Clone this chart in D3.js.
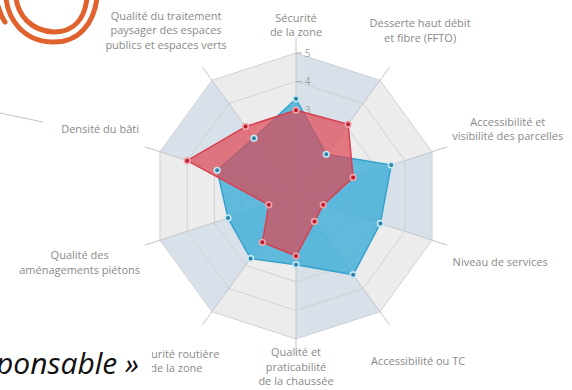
<!DOCTYPE html>
<html lang="fr">
<head>
<meta charset="utf-8">
<script src="https://cdn.jsdelivr.net/npm/d3@7"></script>
<style>
  html, body { margin: 0; padding: 0; background: #fff; }
  svg { display: block; }
</style>
</head>
<body>
<svg id="chart" width="572" height="390"></svg>
<script>
// Critères d'évaluation, dans l'ordre des aiguilles d'une montre depuis le haut
const categories = [
  ["Sécurité", "de la zone"],
  ["Desserte haut débit", "et fibre (FFTO)"],
  ["Accessibilité et", "visibilité des parcelles"],
  ["Niveau de services"],
  ["Accessibilité ou TC"],
  ["Qualité et", "praticabilité", "de la chaussée"],
  ["Sécurité routière", "de la zone"],
  ["Qualité des", "aménagements piétons"],
  ["Densité du bâti"],
  ["Qualité du traitement", "paysager des espaces", "publics et espaces verts"]
];

// Notes sur 5
const seriesBlue = [3.4, 1.8, 3.5, 3.1, 3.4, 2.4, 2.7, 2.5, 2.9, 2.5];
const seriesRed  = [3.0, 3.1, 2.1, 1.0, 1.1, 2.1, 2.0, 1.0, 4.0, 3.0];

const tickValues = [1, 2, 3, 4, 5];
const maxValue = 5;

const svg = d3.select("#chart");
const cx = 296, cy = 196, R = 143;
const n = categories.length;

const r = d3.scaleLinear().domain([0, maxValue]).range([0, R]);
const angle = d3.scaleLinear().domain([0, n]).range([0, 2 * Math.PI]);

const g = svg.append("g").attr("transform", `translate(${cx},${cy})`);

const polar = (a, rad) => [Math.sin(a) * rad, -Math.cos(a) * rad];
const radial = d3.lineRadial().angle(d => d[0]).radius(d => d[1]).curve(d3.curveLinearClosed);

// Secteurs de fond alternés
d3.range(n).forEach(i => {
  g.append("path")
    .attr("d", radial([[0, 0], [angle(i), R], [angle(i + 1), R]]))
    .attr("fill", i % 2 === 0 ? "#d8e0ea" : "#ececec");
});

// Grille concentrique
tickValues.forEach(t => {
  g.append("path")
    .attr("d", radial(d3.range(n).map(i => [angle(i), r(t)])))
    .attr("fill", "none")
    .attr("stroke", "#cfd2d6")
    .attr("stroke-width", 1);
});

// Axes
d3.range(n).forEach(i => {
  const [x, y] = polar(angle(i), R + 16);
  g.append("line")
    .attr("x1", 0).attr("y1", 0).attr("x2", x).attr("y2", y)
    .attr("stroke", "#c2c6cb").attr("stroke-width", 1);
});

// Graduations sur l'axe vertical
tickValues.forEach(t => {
  g.append("line")
    .attr("x1", 0).attr("x2", 6)
    .attr("y1", -r(t)).attr("y2", -r(t))
    .attr("stroke", "#aaa").attr("stroke-width", 1);
  g.append("text")
    .attr("x", 11.5).attr("y", -r(t))
    .attr("dy", "0.35em")
    .attr("text-anchor", "middle")
    .attr("font-family", "Open Sans, sans-serif")
    .attr("font-size", 10)
    .attr("fill", "#a0a0a0")
    .text(t);
});

// Séries
const seriesDefs = [
  { values: seriesBlue, fill: "#3caed8", fillOpacity: 0.8, stroke: "#35a2cc", dot: "#2a83a6", halo: "#c6e7f3" },
  { values: seriesRed,  fill: "#e04652", fillOpacity: 0.7, stroke: "#d6414e", dot: "#b51f2f", halo: "#f3a3aa" }
];

seriesDefs.forEach(s => {
  g.append("path")
    .attr("d", radial(s.values.map((v, i) => [angle(i), r(v)])))
    .attr("fill", s.fill)
    .attr("fill-opacity", s.fillOpacity)
    .attr("stroke", s.stroke)
    .attr("stroke-width", 1.5)
    .attr("stroke-linejoin", "round");
});

seriesDefs.forEach(s => {
  g.selectAll(null)
    .data(s.values)
    .enter().append("circle")
    .attr("cx", (v, i) => polar(angle(i), r(v))[0])
    .attr("cy", (v, i) => polar(angle(i), r(v))[1])
    .attr("r", 2.8)
    .attr("fill", s.dot)
    .attr("stroke", s.halo)
    .attr("stroke-width", 1.6);
});

// Libellés des critères
const lineH = 14.5;
categories.forEach((lines, i) => {
  const a = angle(i);
  const t = g.append("text")
    .attr("font-family", "Open Sans, sans-serif")
    .attr("font-size", 11)
    .attr("fill", "#8a8a8a")
    .attr("text-anchor", "middle");
  const spans = lines.map(line => t.append("tspan").attr("x", 0).text(line));
  const w = d3.max(spans, sp => sp.node().getComputedTextLength());
  const s = Math.sin(a), c = Math.cos(a);
  const as = Math.abs(s);
  const x = s * (150 + 18 * as + w / 2);
  const y = -c * (171 + 46 * Math.pow(as, 0.6));
  spans.forEach((sp, k) => {
    sp.attr("x", x)
      .attr("y", y + (k - (lines.length - 1) / 2) * lineH)
      .attr("dy", "0.35em");
  });
});

// Trait gris à gauche
svg.append("line")
  .attr("x1", 0).attr("y1", 113).attr("x2", 43).attr("y2", 122)
  .attr("stroke", "#c4c4c4").attr("stroke-width", 1);

// Logo (anneaux orange)
const logo = svg.append("g")
  .attr("fill", "none")
  .attr("stroke", "#e0632d")
  .attr("stroke-width", 5)
  .attr("stroke-linecap", "round");
logo.append("path").attr("d", "M6,-2 C8,18 22,41 52,42 C80,43 94,22 97,-2");
logo.append("path").attr("d", "M16,-2 C18,14 30,31 54,32 C76,32 85,16 87,-2");
logo.append("path").attr("d", "M-2,6 C0,12 2,18 5,22");

// Bandeau de titre
svg.append("rect")
  .attr("x", 0).attr("y", 336).attr("width", 152).attr("height", 54)
  .attr("fill", "#fff");
svg.append("text")
  .attr("x", -4).attr("y", 374)
  .attr("font-family", "Open Sans, sans-serif")
  .attr("font-style", "italic")
  .attr("font-size", 30)
  .attr("fill", "#111")
  .text("ponsable »");
</script>
</body>
</html>
